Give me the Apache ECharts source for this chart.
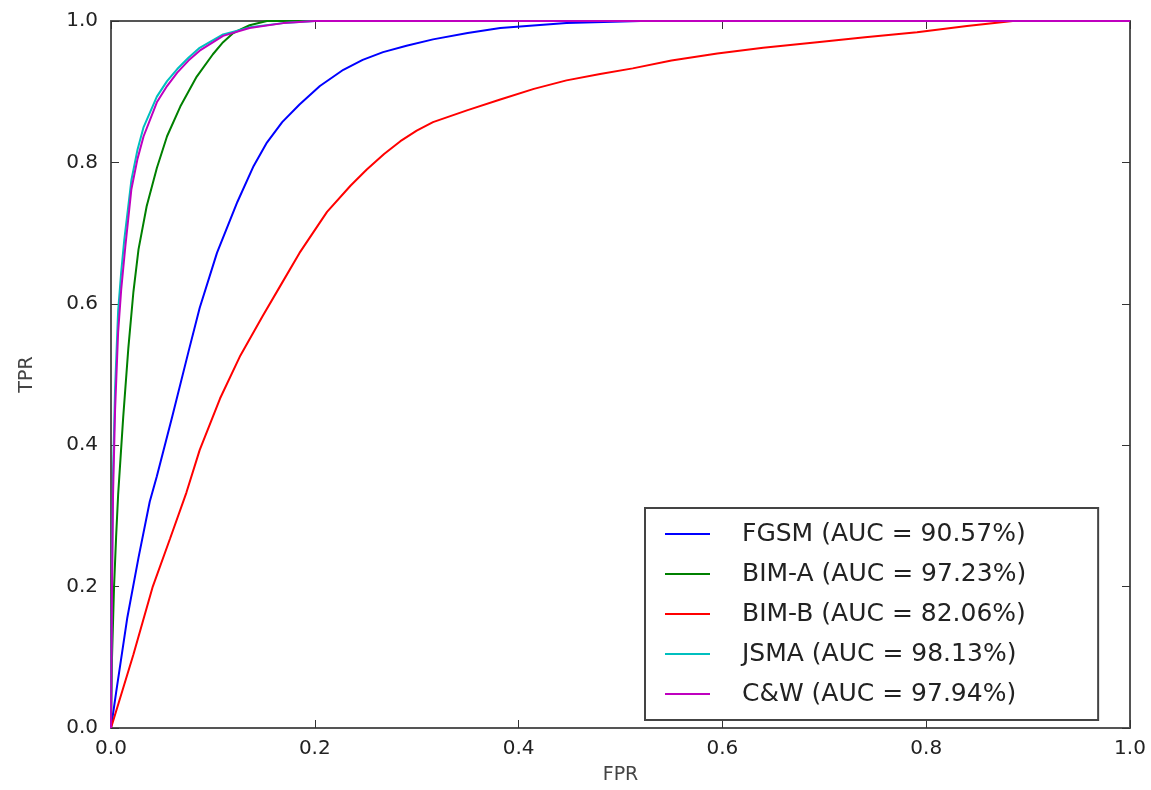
<!DOCTYPE html>
<html>
<head>
<meta charset="utf-8">
<script src="https://cdn.jsdelivr.net/npm/echarts@6/dist/echarts.min.js"></script>
<style>
html,body{margin:0;padding:0;background:#fff;}
#chart{width:1151px;height:790px;}
</style>
</head>
<body>
<div id="chart"></div>
<script>
// Tick labels
const xTicks = [0.0, 0.2, 0.4, 0.6, 0.8, 1.0];
const yTicks = [0.0, 0.2, 0.4, 0.6, 0.8, 1.0];

// Series names (legend)
const seriesNames = [
  'FGSM (AUC = 90.57%)',
  'BIM-A (AUC = 97.23%)',
  'BIM-B (AUC = 82.06%)',
  'JSMA (AUC = 98.13%)',
  'C&W (AUC = 97.94%)'
];

// ROC points [FPR, TPR]
const fgsm = [[0,0],[0.005,0.05],[0.016,0.156],[0.027,0.241],[0.038,0.32],[0.045,0.356],[0.06,0.44],[0.076,0.532],[0.087,0.594],[0.104,0.672],[0.124,0.744],[0.14,0.795],[0.153,0.828],[0.168,0.857],[0.185,0.882],[0.205,0.908],[0.228,0.931],[0.247,0.945],[0.267,0.956],[0.29,0.965],[0.316,0.974],[0.35,0.983],[0.382,0.99],[0.447,0.997],[0.52,1.0],[1,1]];
const bimA = [[0,0],[0.001,0.1],[0.003,0.2],[0.005,0.27],[0.007,0.33],[0.012,0.44],[0.017,0.537],[0.022,0.617],[0.027,0.677],[0.035,0.738],[0.045,0.792],[0.055,0.837],[0.068,0.879],[0.084,0.921],[0.1,0.953],[0.11,0.97],[0.12,0.983],[0.136,0.994],[0.153,1.0],[1,1]];
const bimB = [[0,0],[0.022,0.104],[0.041,0.2],[0.058,0.268],[0.074,0.333],[0.087,0.393],[0.107,0.466],[0.127,0.527],[0.149,0.583],[0.166,0.625],[0.185,0.672],[0.212,0.73],[0.235,0.767],[0.251,0.79],[0.268,0.812],[0.284,0.83],[0.3,0.845],[0.316,0.857],[0.35,0.874],[0.382,0.889],[0.415,0.904],[0.447,0.916],[0.48,0.925],[0.512,0.933],[0.55,0.944],[0.595,0.954],[0.64,0.962],[0.693,0.97],[0.74,0.977],[0.791,0.984],[0.84,0.993],[0.885,1.0],[1,1]];
const jsma = [[0,0],[0.001,0.22],[0.002,0.36],[0.004,0.48],[0.007,0.59],[0.01,0.645],[0.013,0.69],[0.02,0.775],[0.026,0.818],[0.032,0.85],[0.045,0.893],[0.055,0.915],[0.065,0.932],[0.076,0.948],[0.087,0.962],[0.11,0.981],[0.136,0.991],[0.169,0.997],[0.2,1.0],[1,1]];
const cw = [[0,0],[0.001,0.2],[0.002,0.33],[0.004,0.45],[0.007,0.56],[0.01,0.62],[0.014,0.68],[0.02,0.762],[0.026,0.805],[0.032,0.837],[0.045,0.885],[0.055,0.908],[0.065,0.927],[0.076,0.944],[0.087,0.958],[0.11,0.979],[0.136,0.99],[0.169,0.997],[0.2,1.0],[1,1]];

const seriesData = [fgsm, bimA, bimB, jsma, cw];
const colors = ['#0000ff', '#008000', '#ff0000', '#00bfbf', '#bf00bf'];

const fmt = v => v.toFixed(1);
const frameColor = '#555';

function axisCommon(showLabel, position) {
  return {
    type: 'value', min: 0, max: 1, interval: 0.2, position: position,
    splitLine: {show: false},
    axisLine: {show: true, onZero: false, lineStyle: {color: frameColor, width: 2}},
    axisTick: {show: true, inside: true, length: 8, lineStyle: {color: '#333', width: 1}},
    axisLabel: {show: showLabel, formatter: fmt, color: '#222', fontSize: 19, fontFamily: 'DejaVu Sans'}
  };
}

const chart = echarts.init(document.getElementById('chart'), null, {renderer: 'canvas'});
const option = {
  backgroundColor: '#fff',
  animation: false,
  grid: {left: 111, right: 21, top: 21, bottom: 59, containLabel: false},
  xAxis: [
    Object.assign(axisCommon(true, 'bottom'), {
      name: 'FPR', nameLocation: 'middle', nameGap: 38,
      nameTextStyle: {fontSize: 19, color: '#444', fontFamily: 'DejaVu Sans'},
      axisLabel: {show: true, formatter: fmt, color: '#222', fontSize: 20, fontFamily: 'DejaVu Sans', margin: 11}
    }),
    axisCommon(false, 'top')
  ],
  yAxis: [
    Object.assign(axisCommon(true, 'left'), {
      name: 'TPR', nameLocation: 'middle', nameGap: 74, nameRotate: 90,
      nameTextStyle: {fontSize: 19, color: '#444', fontFamily: 'DejaVu Sans'},
      axisLabel: {show: true, formatter: fmt, color: '#222', fontSize: 20, fontFamily: 'DejaVu Sans', margin: 13}
    }),
    axisCommon(false, 'right')
  ],
  legend: {
    orient: 'vertical', left: 645, top: 508,
    data: seriesNames,
    icon: 'rect', itemWidth: 45, itemHeight: 2, itemGap: 14,
    padding: [13, 72, 13, 20],
    backgroundColor: '#fff', borderColor: '#444', borderWidth: 2, borderRadius: 0,
    textStyle: {fontSize: 25, color: '#222', fontFamily: 'DejaVu Sans', padding: [0, 0, 0, 27], lineHeight: 26}
  },
  series: seriesNames.map((n, i) => ({
    name: n, type: 'line', data: seriesData[i],
    xAxisIndex: 0, yAxisIndex: 0,
    showSymbol: false, symbol: 'none',
    smooth: false,
    lineStyle: {color: colors[i], width: 2},
    itemStyle: {color: colors[i]},
    z: 2 + i
  }))
};
chart.setOption(option);
</script>
</body>
</html>
